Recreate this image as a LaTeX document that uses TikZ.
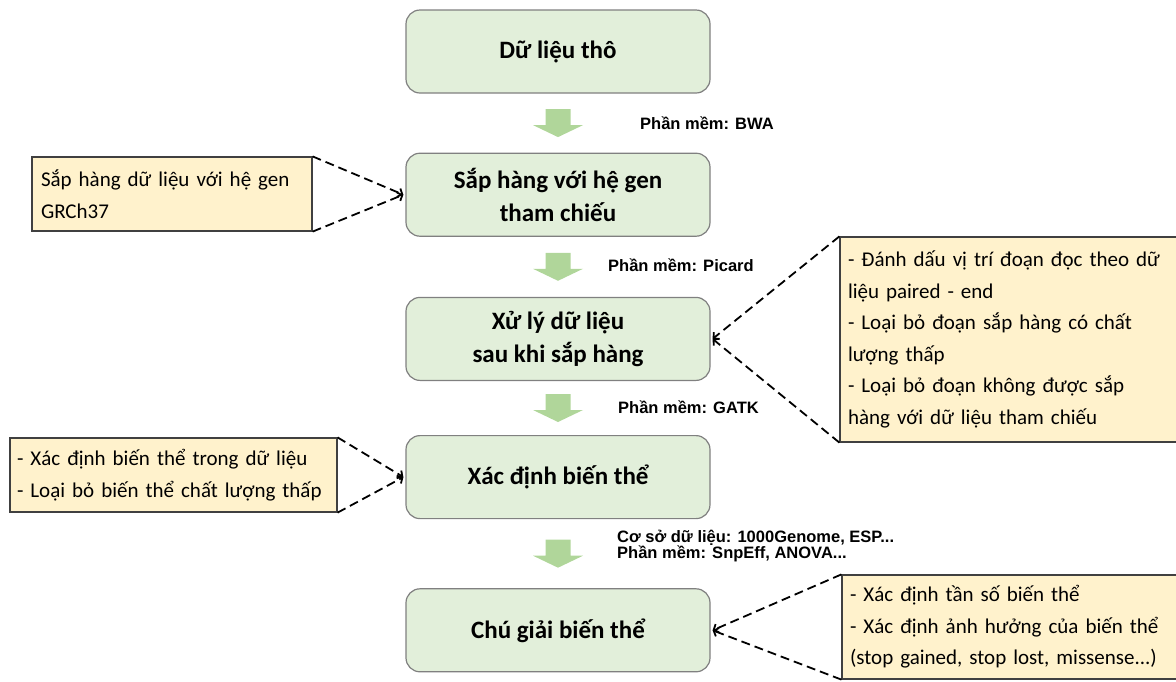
\documentclass[tikz,border=0pt]{standalone}
\usepackage{fontspec}
\setmainfont{Carlito}
\newfontfamily\labelfont{Liberation Sans}
\usetikzlibrary{positioning, arrows.meta}

\definecolor{stagefill}{HTML}{E2EFDA}
\definecolor{stageline}{HTML}{808080}
\definecolor{notefill}{HTML}{FFF2CC}
\definecolor{noteline}{HTML}{404040}
\definecolor{arrowfill}{HTML}{B0D69A}

\begin{document}
\begin{tikzpicture}[
                x=1pt, y=-1pt,
                stage/.style={draw=stageline, line width=1.2pt, fill=stagefill, rounded corners=14pt, minimum width=304pt, minimum height=83pt, align=center, font=\bfseries\fontsize{25}{33}\selectfont},
                note/.style={draw=noteline, line width=1.2pt, fill=notefill, align=left, inner xsep=9pt, inner ysep=0pt, font=\fontsize{21}{31.5}\selectfont},
                tool/.style={anchor=west, align=left, inner sep=0pt, font=\labelfont\bfseries\fontsize{16.5}{16}\selectfont},
                link/.style={draw=black, line width=1.8pt, dash pattern=on 9pt off 5pt, -{Straight Barb[length=4pt, width=9pt]}},
                pics/flow/.style={code={
                    \fill[arrowfill] (-12.5,-14) -- (12.5,-14) -- (12.5,2) -- (25,2) -- (0,14) -- (-25,2) -- (-12.5,2) -- cycle;
                }}
            ]

            \clip (0,0) rectangle (1176,681);

            % main chain
            \node[stage] (raw) at (558,51.5) {Dữ liệu thô};
            \node[stage, below=59pt of raw] (align) {Sắp hàng với hệ gen\\tham chiếu};
            \node[stage, below=60pt of align] (post) {Xử lý dữ liệu\\sau khi sắp hàng};
            \node[stage, below=54pt of post] (call) {Xác định biến thể};
            \node[stage, below=69pt of call] (annot) {Chú giải biến thể};

            \path (raw.south) -- (align.north) coordinate[midway] (ar1);
            \path (align.south) -- (post.north) coordinate[midway] (ar2);
            \path (post.south) -- (call.north) coordinate[midway] (ar3);
            \path (call.south) -- (annot.north) coordinate[midway] (ar4);
            \pic at (ar1) {flow};
            \pic at (ar2) {flow};
            \pic at (ar3) {flow};
            \pic at (ar4) {flow};

            % tools
            \node[tool] (bwa) at (640,123) {Phần mềm: BWA};
            \node[tool] (picard) at (608,265) {Phần mềm: Picard};
            \node[tool] (gatk) at (618,407) {Phần mềm: GATK};
            \node[tool] (dbs) at (617,546) {Cơ sở dữ liệu: 1000Genome, ESP...\\Phần mềm: SnpEff, ANOVA...};

            % notes
            \node[note, text width=262pt, minimum height=74pt] (noteA) at (172,194) {Sắp hàng dữ liệu với hệ gen\\GRCh37};
            \node[note, inner xsep=7pt, text width=313pt, minimum height=74pt] (noteB) at (173.5,475) {- Xác định biến thể trong dữ liệu\\- Loại bỏ biến thể chất lượng thấp};
            \node[note, inner xsep=8pt, text width=332pt, minimum height=205pt] (noteC) at (1014,339.5) {- Đánh dấu vị trí đoạn đọc theo dữ\\liệu paired - end\\- Loại bỏ đoạn sắp hàng có chất\\lượng thấp\\- Loại bỏ đoạn không được sắp\\hàng với dữ liệu tham chiếu};
            \node[note, inner xsep=8pt, text width=332pt, minimum height=104pt] (noteD) at (1016,627) {- Xác định tần số biến thể\\- Xác định ảnh hưởng của biến thể\\(stop gained, stop lost, missense...)};

            \coordinate (jA) at ([xshift=-2pt]align.west);
            \coordinate (jB) at ([xshift=-2pt]call.west);
            \coordinate (jC) at ([xshift=2pt]post.east);
            \coordinate (jD) at ([xshift=2pt]annot.east);

            \draw[link] (noteA.north east) -- (jA);
            \draw[link] (noteA.south east) -- (jA);
            \draw[link] (noteB.north east) -- (jB);
            \draw[link] (noteB.south east) -- (jB);
            \draw[link] (noteC.north west) -- (jC);
            \draw[link] (noteC.south west) -- (jC);
            \draw[link] (noteD.north west) -- (jD);
            \draw[link] (noteD.south west) -- (jD);
        \end{tikzpicture}
\end{document}
